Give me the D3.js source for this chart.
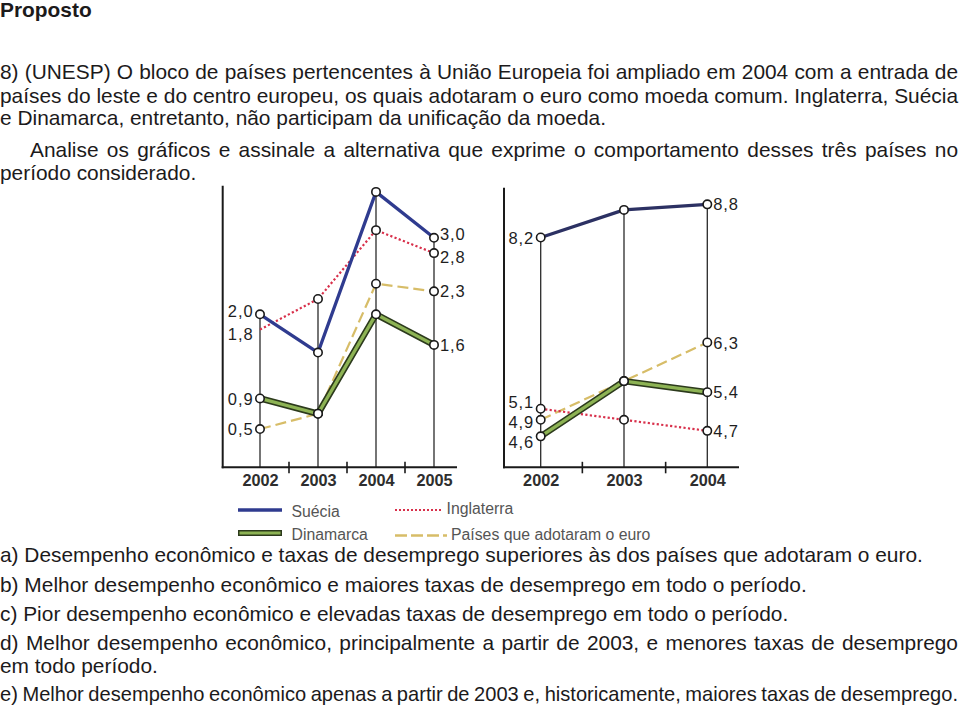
<!DOCTYPE html>
<html><head><meta charset="utf-8">
<script src="https://cdn.jsdelivr.net/npm/d3@7"></script>
<style>
html,body{margin:0;padding:0;background:#fff;}
svg{display:block;}
text{font-family:"Liberation Sans",Arial,Helvetica,sans-serif;}
</style>
</head><body>
<svg id="c" width="960" height="710"></svg>
<script>
// ---------------- DATA ----------------
const seriesNames = ["Suécia", "Inglaterra", "Dinamarca", "Países que adotaram o euro"];

// Left chart (desempenho econômico)
const yearsA = [2002, 2003, 2004, 2005];
const growthSuecia     = [2.0, 1.5, 3.6, 3.0];
const growthInglaterra = [1.8, 2.2, 3.1, 2.8];
const growthDinamarca  = [0.9, 0.7, 2.0, 1.6];
const growthEuro       = [0.5, 0.7, 2.4, 2.3];

// Right chart (taxas de desemprego)
const yearsB = [2002, 2003, 2004];
const unempSuecia     = [8.2, 8.7, 8.8];
const unempInglaterra = [5.1, 4.9, 4.7];
const unempDinamarca  = [4.6, 5.6, 5.4];
const unempEuro       = [4.9, 5.6, 6.3];

const titleText = "Proposto";
const introLines = [
  "8) (UNESP) O bloco de países pertencentes à União Europeia foi ampliado em 2004 com a entrada de",
  "países do leste e do centro europeu, os quais adotaram o euro como moeda comum. Inglaterra, Suécia",
  "e Dinamarca, entretanto, não participam da unificação da moeda.",
  "Analise os gráficos e assinale a alternativa que exprime o comportamento desses três países no",
  "período considerado."
];
const optionLines = [
  "a) Desempenho econômico e taxas de desemprego superiores às dos países que adotaram o euro.",
  "b) Melhor desempenho econômico e maiores taxas de desemprego em todo o período.",
  "c) Pior desempenho econômico e elevadas taxas de desemprego em todo o período.",
  "d) Melhor desempenho econômico, principalmente a partir de 2003, e menores taxas de desemprego",
  "em todo período.",
  "e) Melhor desempenho econômico apenas a partir de 2003 e, historicamente, maiores taxas de desemprego."
];

// ---------------- DRAW ----------------
const svg = d3.select("#c");
const FS = 20, SX = 1.045, TXT = "#1c1a1b";

function addLine(str, x, y, opt = {}) {
  const g = svg.append("g").attr("transform", `translate(${x},${y}) scale(${SX},1)`);
  const t = g.append("text").attr("font-size", FS).attr("fill", TXT).text(str);
  if (opt.bold) t.attr("font-weight", "bold");
  const target = opt.justifyTo ? (opt.justifyTo - x) / SX : null;
  if (opt.justifyTo) {
    const w = t.node().getComputedTextLength();
    const n = (str.match(/ /g) || []).length;
    if (w < target && n > 0) {
      t.style("word-spacing", ((target - w) / n) + "px");
    } else {
      t.style("word-spacing", "-1px");
      t.attr("textLength", target).attr("lengthAdjust", "spacingAndGlyphs");
    }
  }
}

addLine(titleText, 0, 16.5, {bold: true});
addLine(introLines[0], 0, 78.8, {justifyTo: 958});
addLine(introLines[1], 0, 102.5, {justifyTo: 958});
addLine(introLines[2], 0, 125.3);
addLine(introLines[3], 30, 157, {justifyTo: 958});
addLine(introLines[4], 0, 180);

addLine(optionLines[0], 0, 562);
addLine(optionLines[1], 0, 592);
addLine(optionLines[2], 0, 621);
addLine(optionLines[3], 0, 649.5, {justifyTo: 958});
addLine(optionLines[4], 0, 672.5);
addLine(optionLines[5], 0, 700.5, {justifyTo: 958});

const fmt = v => d3.format(".1f")(v).replace(".", ",");

// push labels apart vertically so that they keep a minimum gap
function dodge(items, minGap) {
  items.sort((a, b) => a.y - b.y);
  for (let it = 0; it < 50; it++) {
    let moved = false;
    for (let i = 1; i < items.length; i++) {
      const d = items[i].y - items[i - 1].y;
      if (d < minGap) {
        const p = (minGap - d) / 2;
        items[i - 1].y -= p; items[i].y += p; moved = true;
      }
    }
    if (!moved) break;
  }
  return items;
}

function panel(cfg) {
  const x = d3.scalePoint().domain(cfg.years).range(cfg.xRange);
  const y = d3.scaleLinear().domain(cfg.yDomain).range(cfg.yRange);
  const g = svg.append("g");
  const base = y(cfg.yDomain[0]);

  // vertical year lines (from baseline up to highest point of each year)
  cfg.years.forEach((yr, i) => {
    const maxV = d3.max(cfg.series, s => s.values[i]);
    g.append("line")
      .attr("x1", x(yr)).attr("x2", x(yr))
      .attr("y1", base).attr("y2", y(maxV))
      .attr("stroke", "#2a2a2a").attr("stroke-width", 1.3);
  });

  // axes
  g.append("line").attr("x1", cfg.axisX).attr("x2", cfg.axisX)
    .attr("y1", base + 1).attr("y2", y(cfg.yDomain[1]))
    .attr("stroke", "#1a1a1a").attr("stroke-width", 2);
  g.append("line").attr("x1", cfg.axisX - 1).attr("x2", cfg.xEnd)
    .attr("y1", base).attr("y2", base)
    .attr("stroke", "#1a1a1a").attr("stroke-width", 2);
  // separator ticks between years
  d3.pairs(cfg.years).forEach(([a, b]) => {
    const m = (x(a) + x(b)) / 2;
    g.append("line").attr("x1", m).attr("x2", m)
      .attr("y1", base - 5.5).attr("y2", base + 6)
      .attr("stroke", "#1a1a1a").attr("stroke-width", 1.6);
  });

  // year labels
  const ax = g.append("g").attr("transform", `translate(0,${base})`)
    .call(d3.axisBottom(x).tickSize(0).tickPadding(7.5).tickFormat(d3.format("d")));
  ax.select(".domain").remove();
  ax.selectAll("text").attr("font-size", 16.3).attr("font-weight", "bold")
    .attr("fill", "#2e2e2e").attr("font-family", '"Liberation Sans",Arial,sans-serif');

  const line = d3.line().x((d, i) => x(cfg.years[i])).y(d => y(d));
  const byName = {};
  cfg.series.forEach(s => byName[s.name] = s);

  // draw order: euro, inglaterra, dinamarca, suecia
  const euro = byName[seriesNames[3]], ing = byName[seriesNames[1]],
        din = byName[seriesNames[2]], sue = byName[seriesNames[0]];
  g.append("path").attr("d", line(euro.values)).attr("fill", "none")
    .attr("stroke", "#d7bd68").attr("stroke-width", 2.2).attr("stroke-dasharray", "11,5");
  g.append("path").attr("d", line(ing.values)).attr("fill", "none")
    .attr("stroke", "#d8304b").attr("stroke-width", 2.2).attr("stroke-dasharray", "2.2,2.3");
  g.append("path").attr("d", line(din.values)).attr("fill", "none")
    .attr("stroke", "#2c3a1c").attr("stroke-width", 6.5).attr("stroke-linejoin", "round");
  g.append("path").attr("d", line(din.values)).attr("fill", "none")
    .attr("stroke", "#8db354").attr("stroke-width", 3.3).attr("stroke-linejoin", "round");
  g.append("path").attr("d", line(sue.values)).attr("fill", "none")
    .attr("stroke", cfg.blue).attr("stroke-width", 3.3).attr("stroke-linejoin", "round");

  // markers
  cfg.series.forEach(s => {
    s.values.forEach((v, i) => {
      if (cfg.noMarker && cfg.noMarker.name === s.name && cfg.noMarker.index === i) return;
      g.append("circle").attr("cx", x(cfg.years[i])).attr("cy", y(v)).attr("r", 4.2)
        .attr("fill", "#fff").attr("stroke", "#1a1a1a").attr("stroke-width", 1.6);
    });
  });

  // value labels at first and last year
  const last = cfg.years.length - 1;
  const leftL = dodge(cfg.series.map(s => ({v: s.values[0], y: y(s.values[0])})), cfg.minGap);
  const rightL = dodge(cfg.series.map(s => ({v: s.values[last], y: y(s.values[last])})), cfg.minGap);
  leftL.forEach(l => {
    g.append("text").attr("x", x(cfg.years[0]) - 6.5).attr("y", l.y)
      .attr("dy", "0.37em").attr("text-anchor", "end").attr("font-size", 16.5)
      .attr("letter-spacing", 0.9).attr("fill", "#1e1e1e").text(fmt(l.v));
  });
  rightL.forEach(l => {
    g.append("text").attr("x", x(cfg.years[last]) + 6).attr("y", l.y)
      .attr("dy", "0.37em").attr("text-anchor", "start").attr("font-size", 16.5)
      .attr("letter-spacing", 0.9).attr("fill", "#1e1e1e").text(fmt(l.v));
  });
}

panel({
  years: yearsA,
  series: [
    {name: seriesNames[0], values: growthSuecia},
    {name: seriesNames[1], values: growthInglaterra},
    {name: seriesNames[2], values: growthDinamarca},
    {name: seriesNames[3], values: growthEuro}
  ],
  xRange: [260, 434], yDomain: [0, 3.68], yRange: [467.3, 467.3 - 3.68 * 76.5],
  axisX: 222.7, xEnd: 457, blue: "#2f3b8f", minGap: 23,
  noMarker: {name: seriesNames[1], index: 0}
});

panel({
  years: yearsB,
  series: [
    {name: seriesNames[0], values: unempSuecia},
    {name: seriesNames[1], values: unempInglaterra},
    {name: seriesNames[2], values: unempDinamarca},
    {name: seriesNames[3], values: unempEuro}
  ],
  xRange: [540.7, 707.3], yDomain: [4.04, 9.1], yRange: [467.3, 690.1 - 55.2 * 9.1],
  axisX: 504, xEnd: 739, blue: "#2c3163", minGap: 20
});

// ---------------- LEGEND ----------------
const lg = svg.append("g");
const LFS = 15.8, LCOL = "#555";
lg.append("line").attr("x1", 238).attr("x2", 282).attr("y1", 510).attr("y2", 510)
  .attr("stroke", "#2f3b8f").attr("stroke-width", 3.5);
lg.append("text").attr("x", 291.5).attr("y", 516.5).attr("font-size", LFS).attr("fill", LCOL).text(seriesNames[0]);
lg.append("line").attr("x1", 238).attr("x2", 282).attr("y1", 533).attr("y2", 533)
  .attr("stroke", "#2c3a1c").attr("stroke-width", 6);
lg.append("line").attr("x1", 239.5).attr("x2", 280.5).attr("y1", 533).attr("y2", 533)
  .attr("stroke", "#8db354").attr("stroke-width", 2.8);
lg.append("text").attr("x", 291.5).attr("y", 539.5).attr("font-size", LFS).attr("fill", LCOL).text(seriesNames[2]);
lg.append("line").attr("x1", 395).attr("x2", 441).attr("y1", 510).attr("y2", 510)
  .attr("stroke", "#d8304b").attr("stroke-width", 2.2).attr("stroke-dasharray", "2,2");
lg.append("text").attr("x", 446.5).attr("y", 513.5).attr("font-size", LFS).attr("fill", LCOL).text(seriesNames[1]);
lg.append("line").attr("x1", 395).attr("x2", 447).attr("y1", 535.5).attr("y2", 535.5)
  .attr("stroke", "#d7bd68").attr("stroke-width", 2.4).attr("stroke-dasharray", "12,4");
lg.append("text").attr("x", 451).attr("y", 540).attr("font-size", LFS).attr("fill", LCOL).text(seriesNames[3]);
</script>
</body></html>
